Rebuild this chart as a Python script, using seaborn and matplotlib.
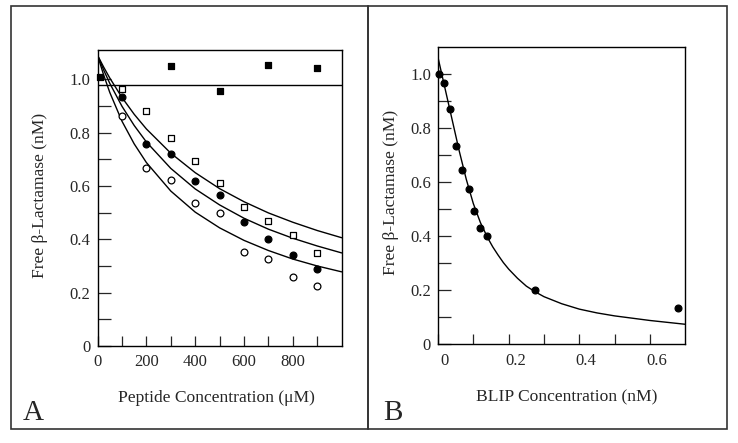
import matplotlib
matplotlib.use("Agg")
import matplotlib.pyplot as plt
from matplotlib.patches import Rectangle
from matplotlib.transforms import ScaledTranslation
import seaborn as sns

# ---- panel A : peptide titration ----
pep_x = [100, 200, 300, 400, 500, 600, 700, 800, 900]
open_sq = [0.965, 0.883, 0.779, 0.695, 0.612, 0.521, 0.467, 0.418, 0.348]
filled_circ = [0.933, 0.759, 0.719, 0.620, 0.566, 0.464, 0.400, 0.341, 0.290]
open_circ = [0.864, 0.669, 0.622, 0.538, 0.499, 0.351, 0.326, 0.257, 0.226]

ctrl_x = [12, 300, 500, 700, 900]
ctrl_y = [1.010, 1.049, 0.956, 1.052, 1.041]
ctrl_fit_x = [0, 1000]
ctrl_fit_y = [0.98, 0.98]

# fitted curves
fit_x = [0, 25, 50, 100, 150, 200, 300, 400, 500, 600, 700, 800, 900, 1000]
fit_top = [1.09, 1.046, 1.005, 0.932, 0.869, 0.814, 0.723, 0.650, 0.590, 0.541, 0.499, 0.464, 0.433, 0.406]
fit_mid = [1.09, 1.035, 0.985, 0.899, 0.827, 0.765, 0.666, 0.589, 0.529, 0.479, 0.438, 0.404, 0.375, 0.349]
fit_low = [1.09, 1.016, 0.951, 0.843, 0.758, 0.688, 0.581, 0.502, 0.443, 0.396, 0.358, 0.326, 0.300, 0.278]

# ---- panel B : BLIP titration ----
blip_x = [0.004, 0.017, 0.035, 0.052, 0.069, 0.087, 0.103, 0.120, 0.138, 0.275, 0.679]
blip_y = [1.000, 0.965, 0.868, 0.732, 0.645, 0.574, 0.493, 0.430, 0.400, 0.202, 0.136]
blip_fit_x = [0, 0.02, 0.04, 0.06, 0.08, 0.10, 0.12, 0.14, 0.155, 0.17, 0.185, 0.20, 0.225,
              0.25, 0.275, 0.30, 0.35, 0.40, 0.45, 0.50, 0.60, 0.70]
blip_fit_y = [1.06, 0.945, 0.83, 0.715, 0.61, 0.52, 0.45, 0.395, 0.36, 0.33, 0.302, 0.278, 0.244,
              0.215, 0.194, 0.176, 0.15, 0.13, 0.116, 0.105, 0.088, 0.074]

sns.set_style("ticks")
plt.rcParams['font.family'] = ['Liberation Serif', 'DejaVu Serif']
plt.rcParams['axes.linewidth'] = 1.0

fig = plt.figure(figsize=(7.38, 4.43), dpi=100)
axA = fig.add_axes([0.1322, 0.2190, 0.3308, 0.6681])
axB = fig.add_axes([0.5935, 0.2228, 0.3351, 0.6718])

# outer panel frames
fig.add_artist(Rectangle((0.0149, 0.0316), 0.4837, 0.9549, transform=fig.transFigure,
                         fill=False, ec='#333333', lw=1.2))
fig.add_artist(Rectangle((0.4986, 0.0316), 0.4864, 0.9549, transform=fig.transFigure,
                         fill=False, ec='#333333', lw=1.2))

lk = dict(color='black', lw=1.0, legend=False)
for fy in (fit_top, fit_mid, fit_low):
    sns.lineplot(x=fit_x, y=fy, ax=axA, sort=False, **lk)
sns.lineplot(x=ctrl_fit_x, y=ctrl_fit_y, ax=axA, **lk)

sk = dict(s=24, linewidth=0.9, edgecolor='black', zorder=5, legend=False, clip_on=False)
sns.scatterplot(x=pep_x, y=open_sq, marker='s', color='white', ax=axA, **sk)
sns.scatterplot(x=pep_x, y=open_circ, marker='o', color='white', ax=axA, **sk)
sns.scatterplot(x=pep_x, y=filled_circ, marker='o', color='black', ax=axA, **sk)
sns.scatterplot(x=ctrl_x, y=ctrl_y, marker='s', color='black', ax=axA, **sk)

sns.lineplot(x=blip_fit_x, y=blip_fit_y, ax=axB, sort=False, **lk)
sns.scatterplot(x=blip_x, y=blip_y, marker='o', color='black', ax=axB, **sk)

axA.set_xlim(0, 1000)
axA.set_ylim(0, 1.11)
axB.set_xlim(0, 0.70)
axB.set_ylim(0, 1.10)

yt = [i / 10 for i in range(11)]
ylab = ['0', '', '0.2', '', '0.4', '', '0.6', '', '0.8', '', '1.0']
for ax in (axA, axB):
    ax.set_yticks(yt)
    ax.set_yticklabels(ylab)
    ax.tick_params(axis='y', direction='in', length=9, width=0.9, pad=5, labelsize=12)
    ax.tick_params(axis='x', direction='in', length=7, width=0.9, pad=6, labelsize=12)
    for sp in ax.spines.values():
        sp.set_visible(True)
        sp.set_color('black')
    ax.set_xlabel('')
    ax.set_ylabel('')

axA.set_xticks(list(range(0, 1000, 100)))
axA.set_xticklabels(['0', '', '200', '', '400', '', '600', '', '800', ''])
axB.set_xticks([i / 10 for i in range(7)])
axB.set_xticklabels(['0', '', '0.2', '', '0.4', '', '0.6'])
shift = ScaledTranslation(5 / 72, 0, fig.dpi_scale_trans)
for lab in axB.get_xticklabels():
    lab.set_transform(lab.get_transform() + shift)

axA.text(-0.236, 0.51, 'Free β-Lactamase (nM)', transform=axA.transAxes, rotation=90,
         ha='center', va='center', fontsize=12.6)
axA.text(0.488, -0.176, 'Peptide Concentration (μM)', transform=axA.transAxes,
         ha='center', va='center', fontsize=12.6)
axB.text(-0.189, 0.51, 'Free β-Lactamase (nM)', transform=axB.transAxes, rotation=90,
         ha='center', va='center', fontsize=12.6)
axB.text(0.519, -0.180, 'BLIP Concentration (nM)', transform=axB.transAxes,
         ha='center', va='center', fontsize=12.6)

fig.text(33 / 738, 1 - 413 / 443, 'A', ha='center', va='center', fontsize=21)
fig.text(393 / 738, 1 - 413 / 443, 'B', ha='center', va='center', fontsize=21)

fig.savefig('out.png', dpi=100)
